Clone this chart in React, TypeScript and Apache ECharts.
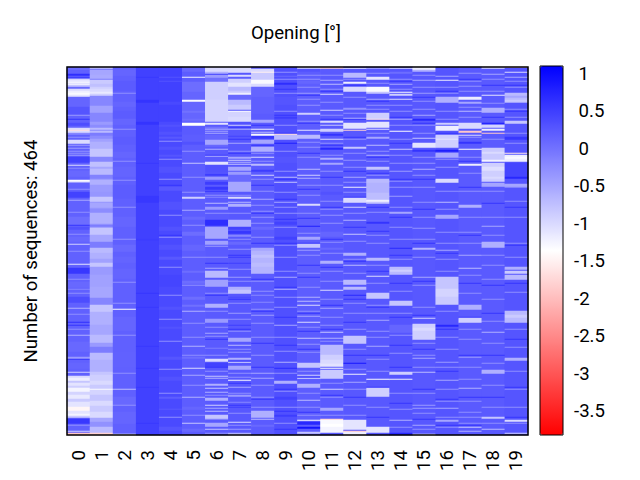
import React, { useEffect, useRef } from "react";
import * as echarts from "echarts";

const ROW_COUNT = 368;
const columnLabels = ["0","1","2","3","4","5","6","7","8","9","10","11","12","13","14","15","16","17","18","19"];
const colorbarTicks = [1, 0.5, 0, -0.5, -1, -1.5, -2, -2.5, -3, -3.5];
const valueMin = -3.82;
const valueMax = 1.1;
const columnBase = [0.16, -0.36, 0.17, 0.47, 0.38, 0.2, 0.22, 0.25, 0.22, 0.33, 0.2, 0.22, 0.25, 0.25, 0.27, 0.25, 0.27, 0.22, 0.22, 0.27];

// each band: [first row, rows, value]
const col0 = [[0,3,0.05],[7,2,0.65],[12,1,-0.9],[13,2,-1.1],[15,1,-1.3],[16,1,-1.0],[17,1,-1.3],[18,2,-0.8],[20,2,0.1],[22,2,-1.0],[24,2,-1.2],[26,2,-1.3],[28,2,-1.1],[30,10,0.12],[40,8,0.28],[48,1,-0.4],[56,3,0.35],[61,2,-1.0],[63,1,-1.7],[64,2,-1.0],[66,2,-0.2],[73,4,-1.0],[78,1,-0.4],[81,1,-0.4],[84,1,-0.3],[88,1,-0.4],[90,6,0.45],[98,1,-1.0],[101,1,-0.2],[104,6,0.1],[113,2,-1.3],[115,1,-0.6],[125,6,0.45],[133,1,-0.5],[150,8,0.05],[160,3,0.3],[170,5,0.1],[177,1,-0.9],[197,1,-1.1],[201,6,0.55],[215,6,0.1],[222,1,-0.2],[230,6,0.35],[241,1,-0.6],[255,1,0.65],[268,1,-0.6],[275,10,0.1],[290,2,-0.4],[296,6,0.12],[305,1,-0.9],[309,2,-1.0],[311,3,-1.2],[314,2,-0.8],[316,3,-1.1],[319,2,-0.9],[321,4,-1.25],[325,3,-0.95],[328,4,-1.15],[332,3,-0.85],[335,5,-1.1],[340,4,-1.45],[344,3,-1.1],[347,2,-1.25],[349,2,-0.85],[352,5,0.55],[364,1,-0.9],[366,2,-1.9]];
const col1 = [[0,2,-0.8],[2,1,0.0],[3,2,-0.5],[5,3,-0.5],[8,4,-0.55],[12,1,-0.1],[13,4,-0.85],[17,3,-0.75],[20,2,-0.9],[22,3,-1.0],[25,2,-1.15],[27,2,-0.9],[29,10,-0.2],[39,7,-0.45],[46,9,-0.2],[55,3,-0.4],[58,3,-0.25],[61,2,-0.7],[63,1,-0.25],[64,2,-0.7],[66,3,-0.1],[69,3,-0.25],[72,3,-0.45],[75,7,-0.6],[82,8,-0.8],[90,5,-0.2],[95,5,-0.75],[100,2,-0.5],[102,6,-0.7],[108,4,-0.15],[113,5,-0.6],[118,7,-0.4],[125,5,-0.35],[130,5,-0.8],[136,5,-0.5],[142,4,-0.25],[146,11,-0.6],[158,2,-0.1],[161,7,-0.8],[168,7,-0.5],[175,6,-0.1],[181,5,-0.7],[186,6,-0.6],[192,4,-0.45],[196,4,-0.8],[200,8,-0.4],[208,12,-0.45],[220,11,-0.5],[231,7,-0.2],[238,7,-0.8],[245,13,-0.6],[258,10,-0.5],[268,8,-0.7],[276,4,-0.4],[280,6,-0.1],[286,7,-0.7],[293,12,-0.6],[305,3,-0.8],[308,6,-0.9],[314,4,-1.0],[318,4,-0.85],[322,1,-1.3],[323,5,-0.95],[328,6,-0.8],[334,5,-1.0],[339,6,-0.85],[345,6,-1.0],[351,4,-0.5],[355,5,-0.3],[360,6,-0.7],[366,2,-1.8]];
const col2 = [[3,6,0.12],[14,10,0.22],[35,5,0.12],[44,8,0.2],[52,6,0.12],[70,8,0.2],[85,6,0.12],[100,10,0.14],[118,14,0.2],[150,10,0.12],[178,7,0.1],[190,6,0.14],[202,10,0.14],[242,1,-1.3],[250,14,0.12],[285,15,0.15],[322,1,-0.7],[330,8,0.1],[345,12,0.12],[367,1,-1.1]];
const col3 = [[10,1,0.55],[33,3,0.6],[55,3,0.6],[96,1,0.55],[129,7,0.55],[172,2,0.5],[226,1,0.58],[240,1,0.55],[279,1,0.55],[301,1,0.55],[320,1,0.55],[356,1,0.55]];
const col4 = [[0,55,0.47],[10,1,0.3],[14,1,0.3],[35,3,0.4],[58,2,0.3],[65,3,0.3],[70,2,0.25],[80,3,0.3],[88,2,0.28],[100,6,0.3],[120,4,0.25],[135,8,0.3],[160,4,0.3],[178,5,0.3],[190,3,0.25],[208,12,0.42],[240,3,0.3],[260,2,0.3],[290,3,0.28],[310,4,0.3],[330,2,0.2],[342,1,0.25],[360,4,0.28]];
const col5 = [[0,5,0.1],[10,1,-1.2],[15,10,0.05],[25,8,0.12],[33,2,-1.3],[35,20,0.12],[44,2,0.0],[52,2,0.05],[56,3,-1.36],[60,8,0.22],[75,3,0.3],[96,1,-0.8],[130,2,-0.9],[143,1,-0.5],[150,3,0.1],[165,4,0.05],[178,6,0.12],[204,2,0.05],[214,3,0.05],[230,3,0.05],[238,2,0.02],[244,1,-0.6],[279,1,-0.6],[290,2,0.05],[301,1,-1.0],[308,1,-0.5],[330,1,-0.6],[340,3,0.12],[356,1,-0.8],[362,3,0.1]];
const col6 = [[0,5,-1.0],[5,2,-0.6],[7,1,0.5],[8,3,-0.4],[11,4,0.02],[15,11,-0.9],[26,7,-0.9],[33,22,-0.95],[56,2,-1.1],[60,2,0.0],[62,1,-0.5],[64,1,-0.45],[66,1,-0.55],[68,5,0.12],[73,5,-0.5],[78,2,0.1],[82,1,-0.6],[89,1,-0.6],[95,3,-1.1],[98,8,0.3],[107,2,0.5],[110,3,-0.4],[115,3,0.5],[120,3,0.55],[130,1,-0.2],[136,1,-0.7],[140,3,-0.4],[153,6,0.65],[160,12,-0.5],[173,1,0.3],[174,4,-0.45],[179,1,-0.4],[201,1,-0.5],[204,7,-0.7],[213,7,-0.45],[237,4,-0.6],[252,4,-0.4],[266,1,-0.5],[269,1,-0.3],[281,1,-0.1],[292,3,-1.0],[296,4,0.45],[309,1,-0.8],[311,1,-0.6],[317,2,-0.6],[321,1,-0.8],[325,1,-0.6],[331,3,-0.6],[338,1,-0.9],[341,1,-0.5],[344,1,-0.7],[348,4,-0.8],[356,4,-0.5],[362,1,-0.8],[366,1,-0.3]];
const col7 = [[0,6,-1.0],[7,1,0.3],[8,2,-1.0],[10,2,0.2],[12,4,-0.9],[16,4,-1.1],[20,4,-0.7],[24,2,-0.85],[26,2,-1.2],[28,5,0.1],[33,5,-0.7],[38,5,-0.85],[44,1,-1.3],[45,5,-0.95],[50,5,-1.0],[55,3,0.3],[58,1,-0.9],[62,1,-0.5],[69,1,0.45],[76,1,-0.5],[90,2,-0.5],[93,1,-0.9],[95,1,-0.6],[97,1,-0.8],[100,4,-0.5],[105,3,-0.4],[108,7,0.1],[115,10,-0.5],[130,2,-1.0],[135,1,-0.7],[137,3,-0.6],[153,7,-0.6],[160,3,0.45],[164,2,0.55],[168,2,-0.2],[175,3,0.1],[190,1,0.55],[196,1,0.5],[210,1,-0.4],[220,3,-0.6],[223,4,-0.8],[230,1,0.4],[246,1,-0.4],[258,1,0.5],[271,4,-0.5],[278,1,-0.7],[285,1,-0.3],[291,2,-0.6],[295,1,-1.0],[299,4,-0.5],[306,1,-0.3],[313,1,-1.3],[320,1,-0.5],[328,2,-0.4],[335,1,-0.2],[340,1,0.5],[355,1,-1.0],[362,1,-0.4],[366,2,-0.6]];
const col8 = [[2,3,-1.0],[5,1,-1.5],[6,3,-0.85],[9,4,-0.85],[13,4,-1.3],[17,3,-1.0],[20,10,0.12],[30,17,0.18],[53,3,-0.5],[62,1,-1.2],[65,1,-0.7],[67,2,-1.3],[69,3,0.55],[73,4,-0.5],[80,5,-0.6],[90,1,-1.0],[97,2,-0.7],[103,2,0.5],[108,1,-0.9],[132,1,-0.5],[150,1,-0.3],[160,3,0.1],[181,3,-0.5],[184,23,-0.65],[188,3,-0.75],[196,4,-0.72],[228,1,-0.2],[235,1,-0.2],[248,1,-0.4],[306,1,-0.5],[311,1,-0.5],[344,7,-0.6],[352,1,-0.7],[358,2,0.1]];
const col9 = [[5,1,-0.3],[9,1,0.1],[16,2,0.65],[30,8,0.28],[50,2,0.5],[67,1,-1.7],[68,5,-0.7],[76,1,0.8],[90,6,0.28],[110,1,-0.7],[115,1,-0.8],[135,1,-0.5],[140,1,-0.3],[155,3,0.45],[170,3,0.45],[210,1,-0.5],[222,1,-0.6],[258,1,-0.5],[295,1,-0.6],[301,1,0.7],[314,3,-0.6],[330,3,0.45],[348,2,0.5],[362,1,0.6]];
const col10 = [[0,2,-1.0],[2,3,0.3],[12,1,-0.3],[14,3,0.12],[26,1,-0.4],[38,1,-0.3],[46,2,-0.9],[63,1,-1.1],[68,4,-0.7],[80,1,-0.3],[102,1,-0.7],[108,1,-0.9],[111,1,-0.6],[137,2,-1.0],[159,1,0.8],[170,3,-0.5],[177,4,-0.8],[183,1,-0.4],[198,1,0.6],[230,1,-0.6],[234,1,-0.7],[238,1,-1.0],[249,1,-0.5],[255,1,-1.0],[264,1,0.6],[271,1,-0.8],[277,1,-0.3],[296,5,-0.8],[308,1,-0.9],[311,1,-1.0],[317,4,-0.6],[333,1,-0.7],[353,1,-1.3],[355,3,0.7],[360,2,0.9],[365,2,-0.8]];
const col11 = [[0,2,-1.8],[13,1,-0.5],[17,1,-0.7],[27,1,-1.0],[43,1,-0.9],[54,2,-1.0],[58,1,-0.8],[62,3,-0.9],[67,2,0.6],[72,1,-1.0],[81,2,0.7],[91,2,-0.6],[96,2,-0.5],[125,3,0.3],[148,1,-0.3],[156,1,-0.3],[165,5,0.12],[181,2,0.1],[194,3,-0.6],[223,1,-1.0],[241,1,-0.5],[265,1,-0.8],[271,1,-0.6],[278,10,-0.7],[288,5,-0.9],[293,4,-1.0],[297,3,-1.1],[301,1,-1.3],[303,9,-0.85],[322,1,-0.9],[341,3,-0.5],[352,1,-1.8],[353,4,-1.3],[357,3,-1.36],[360,6,-1.25]];
const col12 = [[1,1,-1.2],[6,5,-0.7],[15,2,-1.2],[20,5,-1.0],[41,2,-0.3],[51,1,-0.6],[56,6,-1.1],[63,1,-1.8],[80,2,-0.8],[93,1,-0.3],[110,1,-0.5],[115,1,-0.3],[120,1,-1.2],[131,5,-1.0],[140,1,-0.9],[153,1,-0.6],[167,1,-0.8],[186,3,-0.6],[198,1,-0.7],[213,5,-0.7],[220,3,-0.7],[228,1,0.7],[269,8,-0.8],[296,1,0.9],[307,1,-1.2],[315,1,-0.5],[353,10,-1.1],[364,1,-1.9],[365,3,-1.2]];
const col13 = [[1,1,-0.6],[10,3,-1.1],[20,5,-1.3],[25,2,-0.8],[32,1,-0.5],[46,6,-0.9],[52,1,-1.6],[55,6,-1.1],[62,1,-1.0],[70,2,-0.5],[78,1,-0.7],[88,1,-0.6],[100,3,-0.8],[112,4,-0.7],[116,10,-0.62],[126,7,-0.72],[133,2,-1.2],[135,2,-0.8],[155,2,0.6],[191,3,-0.7],[209,1,-1.0],[226,6,-0.8],[253,1,-0.5],[264,1,-0.3],[279,1,-0.5],[312,1,-1.3],[321,9,-0.9],[360,6,-1.1]];
const col14 = [[1,1,-1.0],[5,2,0.05],[17,1,-0.5],[25,1,-1.3],[27,2,-0.9],[32,1,-1.0],[52,1,-0.5],[64,1,-1.3],[82,1,-0.8],[104,1,-0.4],[129,1,-0.4],[145,2,-0.5],[181,1,0.7],[200,8,-0.7],[203,2,-0.9],[234,5,-0.8],[258,8,0.12],[305,3,-0.9],[312,1,-1.2],[353,1,-0.6],[366,2,0.7]];
const col15 = [[0,3,-1.2],[3,2,-0.6],[13,1,-0.5],[26,1,-0.4],[48,1,-0.5],[52,2,0.7],[71,1,-0.8],[76,5,-1.1],[83,2,0.6],[96,1,-0.3],[102,1,-0.6],[161,1,-0.3],[181,2,-0.65],[210,1,-0.5],[251,1,-0.9],[257,16,-0.9],[261,3,-1.0],[291,1,-0.5],[305,1,-0.7],[338,1,-0.4],[341,1,-0.4],[358,1,-0.5],[367,1,-1.0]];
const col16 = [[9,1,-0.5],[13,1,-1.2],[30,6,-0.6],[56,2,-0.9],[59,5,-1.2],[68,13,-0.9],[72,1,-1.1],[83,2,0.8],[86,5,-0.5],[112,4,-1.0],[135,1,-0.7],[148,4,-0.5],[183,1,-0.5],[210,12,-0.8],[222,8,-0.95],[230,8,-0.85],[258,2,0.7],[295,1,-0.4],[313,1,-0.5],[341,1,-0.5],[353,2,-0.5]];
const col17 = [[6,1,-0.3],[19,1,-0.3],[30,3,-1.2],[35,2,-0.5],[44,1,-0.7],[56,6,-1.0],[64,2,-1.9],[68,1,-1.0],[75,2,0.6],[82,1,-1.3],[97,2,-1.2],[138,3,-0.6],[188,1,-0.5],[201,1,-0.7],[238,5,-0.6],[251,5,-0.9],[290,1,-0.4],[321,1,-0.6],[350,1,-0.3],[360,1,-0.8],[364,1,-0.6]];
const col18 = [[0,2,-1.0],[7,1,-0.5],[28,1,-1.1],[41,5,-0.6],[56,1,0.9],[58,3,-0.95],[62,2,-1.2],[66,1,-1.9],[81,12,-0.85],[85,2,-1.0],[93,2,-1.25],[96,19,-0.9],[100,4,-1.05],[110,2,-1.0],[116,4,-0.5],[159,1,-0.5],[175,6,-0.6],[265,1,-0.6],[303,4,-0.6],[350,2,-0.8],[362,1,-0.7]];
const col19 = [[0,1,-1.8],[5,1,-1.0],[10,1,-0.5],[26,10,-0.7],[29,2,-0.5],[33,2,-0.85],[54,3,-0.8],[70,3,0.55],[86,1,-1.6],[88,7,-1.2],[90,2,-1.3],[96,14,0.42],[110,2,0.7],[117,3,-0.5],[200,3,-0.6],[204,3,-0.85],[208,5,-0.7],[244,12,-0.7],[248,3,-0.85],[291,3,-0.6],[353,2,-1.0],[366,1,-0.9]];
const columnBands = [col0,col1,col2,col3,col4,col5,col6,col7,col8,col9,col10,col11,col12,col13,col14,col15,col16,col17,col18,col19];

// thinner streaks, one row each, lighter and darker than the column's usual value
const lightRows = [
  [36,52,70,86,108,122,145,167,184,212,226,247,262,284,318,342,358],
  [],
  [26,62,94,113,140,172,215,236,268,306,338,356],
  [],
  [24,46,74,92,112,148,170,200,228,252,274,302,326,350],
  [20,42,64,84,110,125,158,190,218,256,270,288,318,348],
  [128,146,190,226,244,260,288,304,328,352],
  [84,112,128,146,172,182,202,214,236,252,264,282,310,326,346,358],
  [24,42,86,94,112,124,138,144,156,170,214,224,242,256,270,288,300,318,330,340],
  [12,26,44,58,84,104,125,146,160,178,190,204,230,240,270,284,306,324,340,356],
  [8,20,32,54,75,90,118,128,146,166,188,206,220,244,260,285,304,326,340,348],
  [8,22,35,48,76,88,104,118,134,142,175,186,204,214,232,250,258,274,316,330,348],
  [12,30,46,72,86,100,125,146,160,174,192,206,236,246,262,282,302,322,338,348],
  [6,16,38,42,58,66,84,94,108,145,168,176,198,216,238,246,270,292,304,340,350],
  [12,22,38,44,58,72,88,96,114,120,140,160,172,192,224,246,268,286,300,326,342,360],
  [8,20,34,42,58,66,90,108,120,135,150,172,190,218,240,276,288,300,326,346,362],
  [20,26,44,52,92,100,124,142,165,176,192,204,244,270,282,300,322,334,350,360],
  [14,24,40,50,70,90,106,124,150,165,176,208,226,262,272,300,312,334,345,356],
  [12,24,36,50,72,124,136,150,168,188,198,212,232,254,276,296,318,340,356],
  [14,20,42,50,66,76,120,134,150,176,190,225,262,280,304,322,340,356],
];
const darkRows = [
  [10,34,52,92,128,158,204,222,258,292],
  [],
  [],
  [],
  [50,118,168,214],
  [],
  [42,88,124,155,196,228,272,300,344],
  [60,72,86,122,166,188,232,262,294,316,338],
  [58,78,118,146,176,212,244,276,300,332],
  [22,48,66,94,112,132,152,176,220,250,278,322,344],
  [28,56,86,122,151,176,210,246,282,310,345],
  [24,52,78,110,140,172,200,238,262,296,328],
  [18,52,70,104,130,160,194,232,255,288,330],
  [34,60,90,106,140,164,204,240,288,320,350],
  [14,50,76,112,150,188,216,250,278,300,336],
  [30,56,78,112,142,176,214,248,282,322,352],
  [24,66,112,150,186,218,262,304,332,358],
  [12,60,94,120,168,216,250,288,330,358],
  [18,50,104,136,178,218,246,288,330],
  [18,44,70,108,140,178,216,272,320,350],
];

const rowLabels = Array.from({ length: ROW_COUNT }, (_, i) => String(i));
const FONT = "Roboto";
const LIGHT_STREAK = -0.28;
const DARK_STREAK = 0.6;

function buildCells() {
  const cells: number[][] = [];
  columnBands.forEach((bands, c) => {
    const values = new Array(ROW_COUNT).fill(columnBase[c]);
    lightRows[c].forEach((r) => { values[r] = LIGHT_STREAK; });
    darkRows[c].forEach((r) => { values[r] = DARK_STREAK; });
    bands.forEach(([start, count, value]) => {
      for (let r = start; r < start + count && r < ROW_COUNT; r++) values[r] = value;
    });
    values.forEach((v, r) => cells.push([c, r, v]));
  });
  return cells;
}

export default function App() {
  const ref = useRef<HTMLDivElement>(null);
  useEffect(() => {
    document.body.style.margin = "0";
    const chart = echarts.init(ref.current!, undefined, { renderer: "svg" });
    chart.setOption({
      animation: false,
      backgroundColor: "#fff",
      textStyle: { fontFamily: FONT },
      graphic: [
        { type: "text", silent: true, style: { x: 296, y: 33, text: "Opening [°]", align: "center", verticalAlign: "middle", fontFamily: FONT, fontSize: 18.6, fill: "#000" } },
        { type: "rect", z: 100, silent: true, shape: { x: 67, y: 67, width: 461, height: 368 }, style: { fill: "none", stroke: "#000", lineWidth: 1.5 } },
        { type: "rect", z: 100, silent: true, shape: { x: 540, y: 66, width: 23, height: 369 }, style: { fill: "none", stroke: "#000", lineWidth: 1 } },
      ],
      grid: [
        { left: 67, top: 67, width: 461, height: 368 },
        { left: 540, top: 66, width: 23, height: 369 },
      ],
      xAxis: [
        {
          type: "category",
          gridIndex: 0,
          data: columnLabels,
          axisLine: { show: false },
          axisTick: { show: false },
          splitLine: { show: false },
          axisLabel: { rotate: 90, fontSize: 18.6, margin: 15, color: "#000", fontFamily: FONT, interval: 0, offset: [-1, 0] },
        },
        { type: "value", gridIndex: 1, min: 0, max: 1, show: false },
      ],
      yAxis: [
        {
          type: "category",
          gridIndex: 0,
          inverse: true,
          data: rowLabels,
          axisLine: { show: false },
          axisTick: { show: false },
          axisLabel: { show: false },
          splitLine: { show: false },
          name: "Number of sequences: 464",
          nameLocation: "center",
          nameRotate: 90,
          nameGap: 27,
          nameTextStyle: { fontSize: 18.6, color: "#000", fontFamily: FONT },
        },
        {
          type: "value",
          gridIndex: 1,
          position: "right",
          min: valueMin,
          max: valueMax,
          axisLine: { show: false },
          axisTick: { show: false },
          splitLine: { show: false },
          axisLabel: {
            customValues: colorbarTicks,
            fontSize: 18.6,
            color: "#000",
            fontFamily: FONT,
            margin: 11,
            align: "left",
            formatter: (v: number) => (v >= 0 ? "\u00a0" + v : String(v)),
          },
        },
      ],
      visualMap: {
        type: "continuous",
        seriesIndex: 0,
        min: valueMin,
        max: valueMax,
        calculable: false,
        hoverLink: false,
        left: 540,
        top: 66,
        padding: 0,
        itemWidth: 23,
        itemHeight: 369,
        text: ["", ""],
        showLabel: false,
        inRange: { color: ["#ff0000", "#ffffff", "#0000ff"] },
      },
      series: [
        {
          type: "heatmap",
          xAxisIndex: 0,
          yAxisIndex: 0,
          data: buildCells(),
          progressive: 0,
          silent: true,
          itemStyle: { borderWidth: 0 },
        },
        { type: "line", xAxisIndex: 1, yAxisIndex: 1, data: [], silent: true },
      ],
    });
    return () => chart.dispose();
  }, []);
  return <div ref={ref} style={{ width: 640, height: 480 }} />;
}
